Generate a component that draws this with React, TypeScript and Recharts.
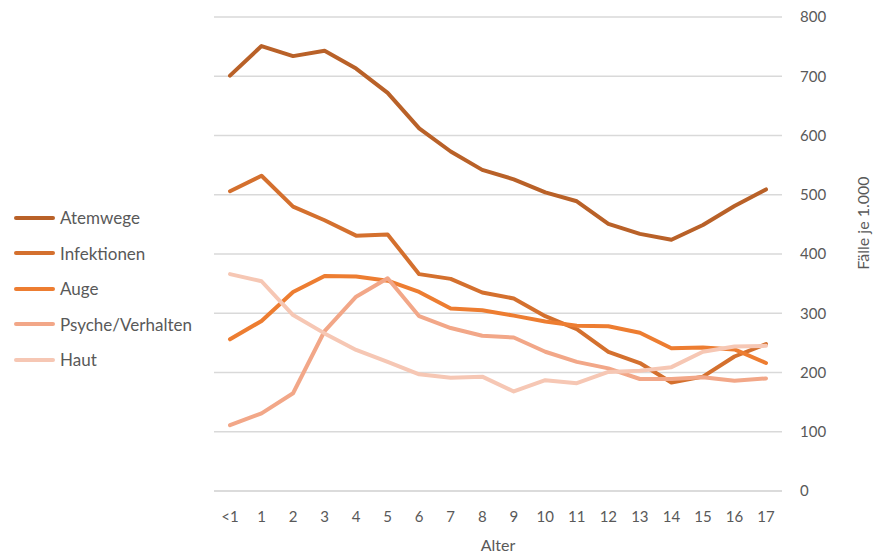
import React from 'react';
import { LineChart, Line, XAxis, YAxis, CartesianGrid, Label } from 'recharts';

const categories = ['<1', '1', '2', '3', '4', '5', '6', '7', '8', '9', '10', '11', '12', '13', '14', '15', '16', '17'];
const atemwege = [701, 751, 734, 743, 713, 672, 612, 573, 542, 526, 504, 489, 451, 434, 424, 449, 481, 509];
const infektionen = [506, 532, 480, 457, 431, 433, 366, 358, 335, 325, 295, 273, 235, 216, 183, 193, 227, 248];
const auge = [256, 287, 336, 363, 362, 355, 336, 308, 305, 296, 286, 279, 278, 267, 241, 242, 239, 216];
const psyche = [111, 131, 165, 270, 328, 359, 295, 275, 262, 259, 235, 218, 207, 189, 189, 192, 186, 190];
const haut = [366, 354, 297, 266, 238, 218, 197, 191, 193, 168, 187, 182, 201, 203, 209, 235, 244, 245];
const yTicks = [0, 100, 200, 300, 400, 500, 600, 700, 800];

const seriesDefs = [
  { key: 'Atemwege', values: atemwege, color: '#B96128' },
  { key: 'Infektionen', values: infektionen, color: '#D4702E' },
  { key: 'Auge', values: auge, color: '#ED7D31' },
  { key: 'Psyche/Verhalten', values: psyche, color: '#F2A788' },
  { key: 'Haut', values: haut, color: '#F6C7B4' },
];

const data = categories.map((c, i) => {
  const row: Record<string, string | number> = { age: c };
  seriesDefs.forEach((s) => {
    row[s.key] = s.values[i];
  });
  return row;
});

const FONT = 'Lato, "Open Sans", sans-serif';
const TEXT = '#595959';

const LegendBox = () => (
  <div style={{ position: 'absolute', left: 14, top: 200, fontFamily: FONT, fontSize: 17, color: TEXT }}>
    {seriesDefs.map((s) => (
      <div key={s.key} style={{ display: 'flex', alignItems: 'center', height: 35.5 }}>
        <div style={{ width: 41, height: 4, background: s.color, borderRadius: 2, marginRight: 5 }} />
        <span>{s.key}</span>
      </div>
    ))}
  </div>
);

const YLabel = (props: any) => {
  const vb = props.viewBox || {};
  const x = (vb.x || 0) + 80;
  const y = (vb.y || 0) + (vb.height || 0) / 2 - 31;
  return (
    <text
      x={x}
      y={y}
      transform={`rotate(-90, ${x}, ${y})`}
      textAnchor="middle"
      dominantBaseline="central"
      fill={TEXT}
      fontFamily={FONT}
      fontSize={16}
    >
      Fälle je 1.000
    </text>
  );
};

export default function App() {
  return (
    <div style={{ position: 'absolute', left: 0, top: 0, width: 875, height: 553, background: '#fff' }}>
      <LineChart width={875} height={553} data={data} margin={{ top: 17, right: 0, bottom: 0, left: 214 }}>
        <CartesianGrid vertical={false} stroke="#D9D9D9" strokeWidth={1.5} />
        <XAxis
          dataKey="age"
          padding={{ left: 16, right: 16 }}
          axisLine={{ stroke: '#D9D9D9', strokeWidth: 1.5 }}
          tickLine={false}
          tickSize={0}
          tickMargin={20}
          height={62}
          interval={0}
          tick={{ fill: TEXT, fontSize: 15, fontFamily: FONT }}
        >
          <Label value="Alter" position="insideBottom" offset={2} fill={TEXT} fontSize={16} fontFamily={FONT} />
        </XAxis>
        <YAxis
          orientation="right"
          width={93}
          domain={[0, 800]}
          ticks={yTicks}
          axisLine={false}
          tickLine={false}
          tickSize={0}
          tickMargin={18}
          tick={{ fill: TEXT, fontSize: 15, fontFamily: FONT, textAnchor: 'start' }}
        >
          <Label content={<YLabel />} />
        </YAxis>
        {seriesDefs.map((s) => (
          <Line
            key={s.key}
            type="linear"
            dataKey={s.key}
            stroke={s.color}
            strokeWidth={4}
            dot={false}
            activeDot={false}
            strokeLinecap="round"
            strokeLinejoin="round"
            isAnimationActive={false}
          />
        ))}
      </LineChart>
      <LegendBox />
    </div>
  );
}
